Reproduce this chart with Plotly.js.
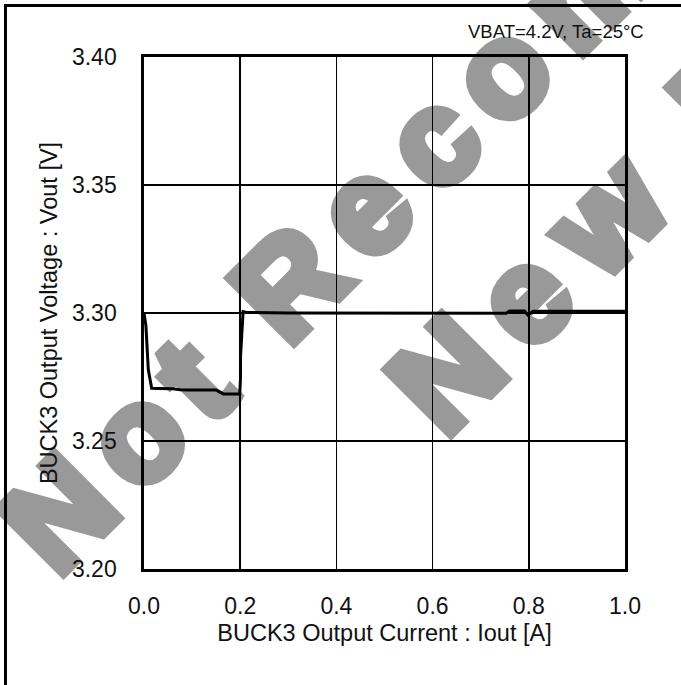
<!DOCTYPE html>
<html>
<head>
<meta charset="utf-8">
<script src="https://cdn.plot.ly/plotly-3.0.1.min.js"></script>
<style>
  html, body { margin: 0; padding: 0; background: #fff; }
  #wrap { position: relative; width: 681px; height: 685px; overflow: hidden; background: #fff; }
  #wm { position: absolute; left: 0; top: 0; z-index: 0; }
  #chart { position: absolute; left: 0; top: 0; width: 681px; height: 685px; z-index: 1; }
  #frame { position: absolute; left: 4px; top: 4px; width: 700px; height: 700px;
           border-left: 3px solid #000; border-top: 3px solid #000; z-index: 2; pointer-events: none; }
</style>
</head>
<body>
<div id="wrap">
  <svg id="wm" width="681" height="685" xmlns="http://www.w3.org/2000/svg">
    <g font-family="Liberation Sans, Arial, sans-serif" font-weight="bold" font-size="132"
       fill="#999999" stroke="#999999" stroke-width="10" stroke-linejoin="miter">
      <text id="wm1">Not Recommended for</text>
      <text id="wm2">New Designs</text>
    </g>
  </svg>
  <div id="chart"></div>
  <div id="frame"></div>
</div>
<script>
// Output current (A)
const currentA = [0.000, 0.004, 0.009, 0.013, 0.016, 0.030, 0.060, 0.075, 0.090, 0.150, 0.158, 0.165, 0.180, 0.199, 0.2005, 0.2007, 0.206, 0.213, 0.300, 0.400, 0.500, 0.600, 0.700, 0.753, 0.760, 0.791, 0.798, 0.809, 0.900, 1.000];
// Output voltage (V)
const voutV = [3.3000, 3.2950, 3.2777, 3.2730, 3.2706, 3.2705, 3.2704, 3.2700, 3.2699, 3.2699, 3.2690, 3.2684, 3.2684, 3.2684, 3.2740, 3.2829, 3.3005, 3.3002, 3.3000, 3.3000, 3.3000, 3.3000, 3.3000, 3.2999, 3.3008, 3.3008, 3.2992, 3.3007, 3.3007, 3.3007];

const xTicks = [0, 0.2, 0.4, 0.6, 0.8, 1.0];
const xTickText = ["0.0", "0.2", "0.4", "0.6", "0.8", "1.0"];
const yTicks = [3.20, 3.25, 3.30, 3.35, 3.40];
const yTickText = ["3.20", "3.25", "3.30", "3.35", "3.40"];

const xTitle = "BUCK3 Output Current : Iout [A]";
const yTitle = "BUCK3 Output Voltage : Vout [V]";
const condition = "VBAT=4.2V, Ta=25°C";

// ---- watermark (drawn behind the chart) ----
(function () {
  // heavy-face advance widths (target look) and bold advance widths (font used), per 1000 em
  const heavy = {" ":333,N:833,o:667,t:444,R:778,e:667,c:667,m:1000,n:667,d:667,f:389,r:444,w:944,D:778,s:611,i:333,g:667};
  const bold  = {" ":278,N:722,o:611,t:333,R:722,e:556,c:556,m:889,n:611,d:611,f:333,r:389,w:778,D:722,s:556,i:278,g:611};
  const HS = 145, BS = 132, DIAG = Math.SQRT1_2;
  function place(id, ox, oy) {
    const el = document.getElementById(id);
    const s = el.textContent;
    const dx = [];
    for (let i = 0; i < s.length; i++) {
      const a = s[i], p = i > 0 ? s[i - 1] : null;
      let v = (heavy[a] * HS - bold[a] * BS) / 2000;
      if (p) v += (heavy[p] * HS - bold[p] * BS) / 2000;
      dx.push(v.toFixed(2));
    }
    const x = ox - 5 * DIAG, y = oy - 5 * DIAG;
    el.setAttribute("x", x.toFixed(1));
    el.setAttribute("y", y.toFixed(1));
    el.setAttribute("dx", dx.join(" "));
    el.setAttribute("transform", "rotate(-45 " + x.toFixed(1) + " " + y.toFixed(1) + ")");
  }
  place("wm1", 51.7, 591.7);
  place("wm2", 439.3, 452.4);
})();

const FONT = "Liberation Sans, Arial, sans-serif";

const trace = {
  x: currentA,
  y: voutV,
  mode: "lines",
  type: "scatter",
  line: { color: "#000", width: 3 },
  hoverinfo: "skip",
  showlegend: false
};

const layout = {
  width: 681,
  height: 685,
  margin: { l: 144, r: 55.5, t: 57, b: 116, pad: 0 },
  paper_bgcolor: "rgba(0,0,0,0)",
  plot_bgcolor: "rgba(0,0,0,0)",
  font: { family: FONT, color: "#000", size: 23 },
  showlegend: false,
  xaxis: {
    range: [0, 1],
    tickvals: xTicks,
    ticktext: xTickText,
    ticks: "",
    ticklabelstandoff: 15,
    showgrid: true,
    gridcolor: "#000",
    gridwidth: 1.7,
    zeroline: false,
    showline: true,
    mirror: true,
    linecolor: "#000",
    linewidth: 2.7,
    tickfont: { family: FONT, size: 23, color: "#111" },
    title: { text: xTitle, font: { family: FONT, size: 23.5, color: "#111" }, standoff: 7 },
    automargin: false,
    fixedrange: true
  },
  yaxis: {
    range: [3.20, 3.40],
    tickvals: yTicks,
    ticktext: yTickText,
    ticks: "",
    ticklabelstandoff: 20,
    showgrid: true,
    gridcolor: "#000",
    gridwidth: 1.7,
    zeroline: false,
    showline: true,
    mirror: true,
    linecolor: "#000",
    linewidth: 2.7,
    tickfont: { family: FONT, size: 23, color: "#111" },
    title: { text: yTitle, font: { family: FONT, size: 23.5, color: "#111" }, standoff: 8 },
    automargin: false,
    fixedrange: true
  },
  annotations: [{
    text: condition,
    xref: "paper", yref: "paper",
    x: 1.043, y: 1.049,
    xanchor: "right", yanchor: "middle",
    showarrow: false,
    font: { family: FONT, size: 18.5, color: "#111" }
  }]
};

Plotly.newPlot("chart", [trace], layout, { displayModeBar: false, staticPlot: true });
</script>
</body>
</html>
